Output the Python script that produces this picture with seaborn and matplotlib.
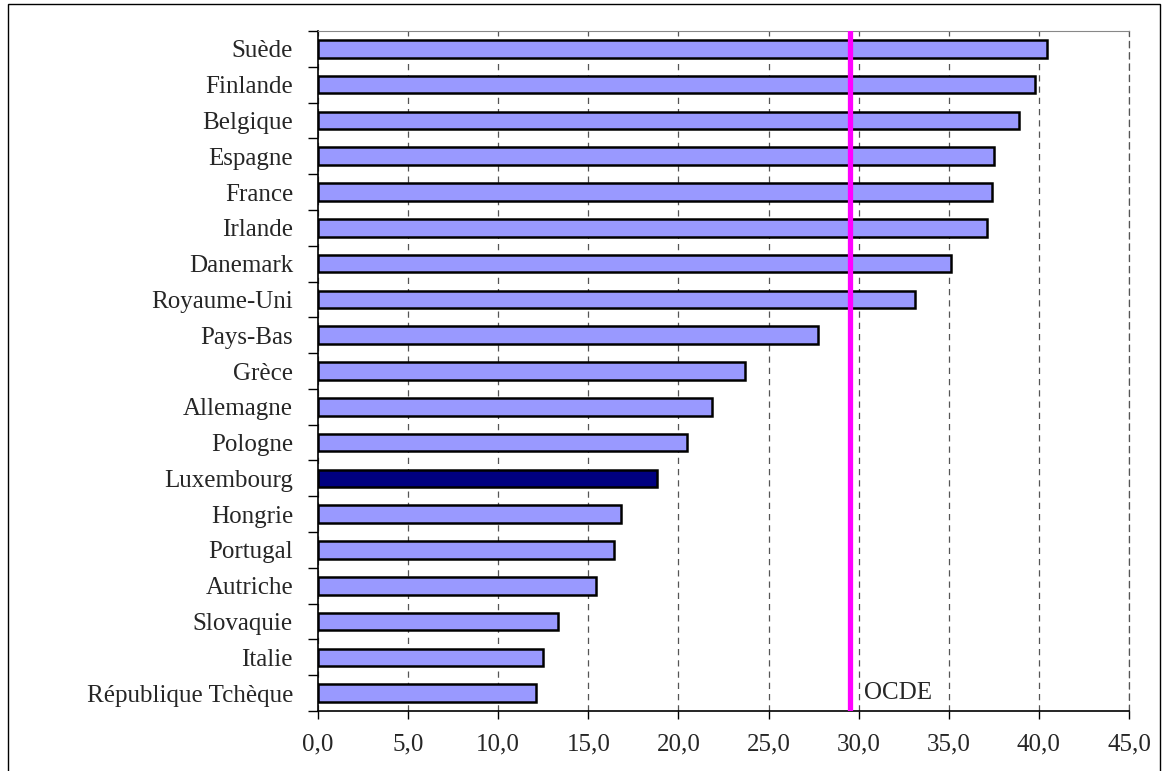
import matplotlib
matplotlib.use("Agg")
import matplotlib.pyplot as plt
import seaborn as sns
import pandas as pd
from matplotlib.patches import Rectangle
from matplotlib.ticker import FuncFormatter, FixedLocator

countries = ["Suède", "Finlande", "Belgique", "Espagne", "France", "Irlande",
             "Danemark", "Royaume-Uni", "Pays-Bas", "Grèce", "Allemagne",
             "Pologne", "Luxembourg", "Hongrie", "Portugal", "Autriche",
             "Slovaquie", "Italie", "République Tchèque"]
values = [40.45, 39.8, 38.9, 37.5, 37.4, 37.1, 35.1, 33.1, 27.75, 23.7, 21.85,
          20.5, 18.8, 16.8, 16.4, 15.45, 13.3, 12.5, 12.1]
highlight = "Luxembourg"
oecd_avg = 29.5
xticks = [0, 5, 10, 15, 20, 25, 30, 35, 40, 45]


def main():
    sns.set_style("white")
    plt.rcParams["font.family"] = ["Liberation Serif", "DejaVu Serif"]

    df = pd.DataFrame({"pays": countries, "valeur": values})
    palette = {c: ("#000080" if c == highlight else "#9999FF") for c in countries}

    fig = plt.figure(figsize=(11.7, 7.71), dpi=100)
    ax = fig.add_axes([318 / 1170, 1 - 711 / 771, (1129 - 318) / 1170, (711 - 31) / 771])

    sns.barplot(data=df, x="valeur", y="pays", hue="pays", palette=palette,
                order=countries, hue_order=countries, legend=False,
                width=0.49, edgecolor="black", linewidth=1.8, saturation=1,
                ax=ax, zorder=3)

    ax.set_xlim(0, 45)
    ax.set_ylim(len(countries) - 0.5, -0.5)
    ax.set_xticks(xticks)
    ax.xaxis.set_major_formatter(FuncFormatter(lambda v, p: f"{v:.1f}".replace(".", ",")))
    ax.set_xlabel("")
    ax.set_ylabel("")

    # dashed vertical grid
    ax.set_axisbelow(True)
    ax.grid(axis="x", linestyle=(0, (5, 4)), color="#555555", linewidth=0.9)
    ax.grid(axis="y", visible=False)

    # OCDE average
    ax.axvline(oecd_avg, color="#FF00FF", linewidth=3.8, zorder=4)
    ax.text(oecd_avg + 0.8, len(countries) - 1, "OCDE", ha="left", va="center",
            fontsize=18, zorder=5)

    # spines
    for s in ["left", "bottom"]:
        ax.spines[s].set_color("black")
        ax.spines[s].set_linewidth(1.2)
    ax.spines["top"].set_color("#888888")
    ax.spines["top"].set_linewidth(0.8)
    ax.spines["right"].set_color("#555555")
    ax.spines["right"].set_linewidth(0.9)
    ax.spines["right"].set_linestyle((0, (5, 4)))

    # ticks: y ticks between categories, x ticks outside
    ax.tick_params(which="both", left=True, bottom=True, top=False, right=False)
    ax.tick_params(axis="y", which="major", length=0, pad=18, labelsize=18)
    ax.yaxis.set_minor_locator(FixedLocator([i - 0.5 for i in range(len(countries) + 1)]))
    ax.tick_params(axis="y", which="minor", length=7, width=1, color="black", direction="out")
    ax.tick_params(axis="x", which="major", length=6, width=1, color="black",
                   direction="out", pad=10, labelsize=18)

    # outer frame
    fig.patches.append(Rectangle((8 / 1170, -0.01), (1160 - 8) / 1170, 1.01 - 3.5 / 771,
                                 transform=fig.transFigure, fill=False,
                                 edgecolor="black", linewidth=1))

    fig.savefig("out.png", dpi=100)
    plt.close(fig)


if __name__ == "__main__":
    main()
